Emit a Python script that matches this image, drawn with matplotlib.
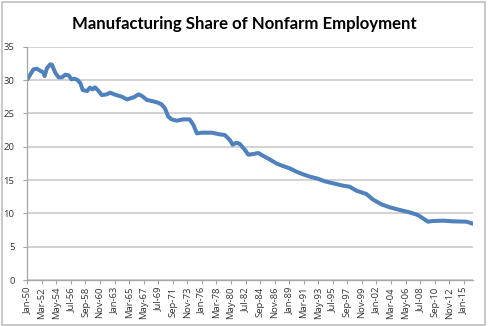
import matplotlib
matplotlib.use("Agg")
import matplotlib.pyplot as plt
from matplotlib.patches import Rectangle
import pandas as pd

# readings taken off the original chart (month, % of nonfarm jobs in manufacturing)
months = ["1950-01", "1950-12", "1951-06", "1951-12", "1952-06", "1952-08", "1952-12",
          "1953-06", "1953-09", "1954-03", "1954-09", "1955-03", "1955-09", "1956-03",
          "1956-08", "1957-01", "1957-07", "1957-12", "1958-04", "1958-12", "1959-05",
          "1959-10", "1960-02", "1960-08", "1961-02", "1961-11", "1962-05", "1963-02",
          "1964-02", "1964-11", "1965-11", "1966-08", "1967-02", "1967-11", "1968-08",
          "1969-05", "1970-01", "1970-07", "1971-01", "1971-07", "1972-04", "1973-04",
          "1974-03", "1974-10", "1975-04", "1976-01", "1977-07", "1978-09", "1979-06",
          "1980-03", "1980-08", "1981-03", "1981-09", "1982-06", "1982-12", "1983-09",
          "1984-06", "1985-03", "1986-03", "1987-03", "1988-02", "1989-02", "1990-02",
          "1991-02", "1992-02", "1993-02", "1994-05", "1995-08", "1997-01", "1998-01",
          "1999-01", "2000-07", "2001-07", "2002-10", "2004-01", "2005-07", "2006-12",
          "2008-03", "2008-12", "2009-09", "2010-06", "2011-12", "2013-06", "2015-06",
          "2016-05"]
share = [30.1, 31.6, 31.7, 31.4, 31.1, 30.6, 31.75,
         32.35, 32.3, 31.1, 30.4, 30.4, 30.8, 30.7,
         30.1, 30.2, 30.0, 29.5, 28.5, 28.35, 28.85,
         28.6, 28.9, 28.4, 27.75, 27.85, 28.1, 27.8,
         27.5, 27.1, 27.4, 27.85, 27.6, 27.0, 26.85,
         26.65, 26.35, 25.75, 24.5, 24.1, 23.9, 24.1,
         24.1, 23.25, 22.0, 22.1, 22.1, 21.85, 21.75,
         21.0, 20.3, 20.6, 20.4, 19.5, 18.8, 18.9,
         19.05, 18.6, 18.05, 17.45, 17.1, 16.75, 16.25,
         15.85, 15.5, 15.25, 14.8, 14.5, 14.15, 14.0,
         13.4, 12.9, 12.05, 11.35, 10.9, 10.5, 10.15,
         9.75, 9.25, 8.75, 8.85, 8.9, 8.8, 8.75,
         8.45]

start = "1950-01"
end = "2016-05"
label_every = 26   # excel shows every 26th month

cats = pd.date_range(start, end, freq="MS")
start_ts = pd.Timestamp(start)
x = [(pd.Timestamp(m).year - start_ts.year) * 12 + pd.Timestamp(m).month - start_ts.month
     for m in months]

fig = plt.figure(figsize=(4.88, 3.26), dpi=100)
ax = fig.add_axes([27 / 488, 1 - 280 / 326, 446 / 488, 233.3 / 326])

ax.plot(x, share, color="#4f81bd", lw=2.9, solid_capstyle="round", solid_joinstyle="round")

ax.set_xlim(-0.5, len(cats) - 0.5)
ax.set_ylim(0, 35)
ax.set_yticks(range(0, 36, 5))
ax.grid(axis="y", color="#c6c6c6", lw=1.1)
ax.set_axisbelow(True)

tick_pos = list(range(0, len(cats), label_every))
ax.set_xticks(tick_pos)
ax.set_xticklabels([cats[i].strftime("%b-%y") for i in tick_pos], rotation=90)

for s in ["top", "right"]:
    ax.spines[s].set_visible(False)
for s in ["left", "bottom"]:
    ax.spines[s].set_color("#a6a6a6")
    ax.spines[s].set_linewidth(0.9)
ax.tick_params(axis="both", colors="#a6a6a6", labelcolor="#333333", labelsize=6.8,
               length=3, width=0.8)
ax.tick_params(axis="x", pad=2)
ax.tick_params(axis="y", pad=6)
for t in ax.get_xticklabels() + ax.get_yticklabels():
    t.set_family("Open Sans")

fig.text(0.5, 1 - 24 / 326, "Manufacturing Share of Nonfarm Employment",
         ha="center", va="center", fontsize=12.1, fontweight="bold", family="Lato")

fig.patches.append(Rectangle((0.004, 0.004), 0.99, 0.99, transform=fig.transFigure,
                             fill=False, ec="#bfbfbf", lw=1.2))

fig.savefig("out.png", dpi=100)
